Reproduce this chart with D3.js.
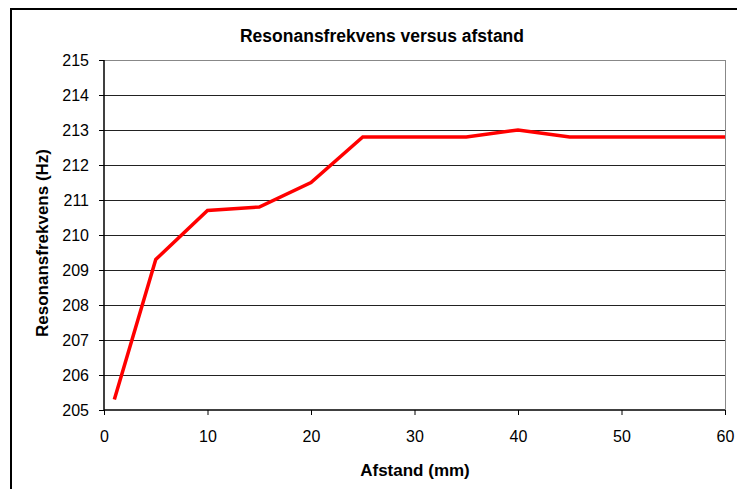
<!DOCTYPE html>
<html><head><meta charset="utf-8">
<script src="https://cdn.jsdelivr.net/npm/d3@7"></script>
<style>body{margin:0;background:#fff}svg{display:block}</style>
</head><body>
<script>
const afstand = [1, 5, 10, 15, 20, 25, 30, 35, 40, 45, 50, 55, 60];
const frekvens = [205.3, 209.3, 210.7, 210.8, 211.5, 212.8, 212.8, 212.8, 213.0, 212.8, 212.8, 212.8, 212.8];
const xTicks = [0, 10, 20, 30, 40, 50, 60];
const yTicks = [205, 206, 207, 208, 209, 210, 211, 212, 213, 214, 215];
const title = "Resonansfrekvens versus afstand";
const xTitle = "Afstand (mm)";
const yTitle = "Resonansfrekvens (Hz)";

const W = 737, H = 489;
const svg = d3.select("body").append("svg").attr("width", W).attr("height", H);
const font = "Liberation Sans, Arial, sans-serif";

// outer chart border
svg.append("rect").attr("x", 11).attr("y", 9).attr("width", 800).attr("height", 600)
  .attr("fill", "none").attr("stroke", "#000").attr("stroke-width", 2);

const x = d3.scaleLinear().domain([0, 60]).range([104, 725]);
const y = d3.scaleLinear().domain([205, 215]).range([410, 60]);

// gridlines
svg.append("g").selectAll("line").data(yTicks.filter(d => d > 205)).join("line")
  .attr("x1", x(0)).attr("x2", x(60))
  .attr("y1", d => Math.round(y(d)) + 0.5).attr("y2", d => Math.round(y(d)) + 0.5)
  .attr("stroke", d => d === 215 ? "#888" : "#222").attr("stroke-width", 1);

// right plot border
svg.append("line").attr("x1", x(60) + 0.5).attr("x2", x(60) + 0.5)
  .attr("y1", y(215)).attr("y2", y(205)).attr("stroke", "#888");

// axes
const yAxis = d3.axisLeft(y).tickValues(yTicks).tickSize(5).tickPadding(10).tickFormat(d3.format("d"));
const gy = svg.append("g").attr("transform", `translate(${x(0)},0)`).call(yAxis);
const xAxis = d3.axisBottom(x).tickValues(xTicks).tickSize(5).tickPadding(16).tickFormat(d3.format("d"));
const gx = svg.append("g").attr("transform", `translate(0,${y(205)})`).call(xAxis);
[gx, gy].forEach(g => {
  g.selectAll("path").attr("stroke", "#000").attr("stroke-width", 1.5);
  g.selectAll("line").attr("stroke", "#000");
  g.selectAll("text").attr("font-family", font).attr("font-size", 16).attr("fill", "#000");
});
gy.select(".domain").attr("d", `M0,${y(215)}V${y(205)}`);
gx.select(".domain").attr("d", `M${x(0)},0H${x(60)}`);

// line
const line = d3.line().x((d, i) => x(afstand[i])).y(d => y(d));
svg.append("path").datum(frekvens).attr("d", line)
  .attr("fill", "none").attr("stroke", "#ff0000").attr("stroke-width", 3.5)
  .attr("stroke-linejoin", "miter");

// titles
svg.append("text").attr("x", 382).attr("y", 42).attr("text-anchor", "middle")
  .attr("font-family", font).attr("font-weight", "bold").attr("font-size", 17.5)
  .text(title);
svg.append("text").attr("x", 415).attr("y", 476).attr("text-anchor", "middle")
  .attr("font-family", font).attr("font-weight", "bold").attr("font-size", 17)
  .text(xTitle);
svg.append("text").attr("transform", "translate(48,243) rotate(-90)").attr("text-anchor", "middle")
  .attr("font-family", font).attr("font-weight", "bold").attr("font-size", 17)
  .text(yTitle);
</script>
</body></html>
